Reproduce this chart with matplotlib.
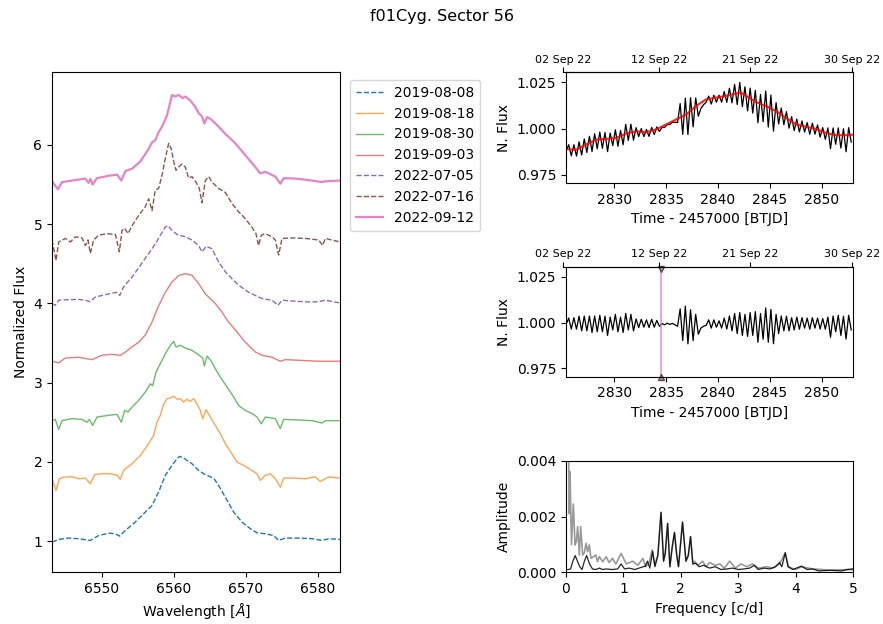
import numpy as np
import matplotlib
matplotlib.use("Agg")
import matplotlib.pyplot as plt
from matplotlib.ticker import FormatStrFormatter

# ---------------- data: H-alpha spectra (wavelength [A], normalized flux incl. offset)
wl_190808 = [6543.06, 6543.99, 6545.37, 6546.76, 6548.38, 6549.54, 6550.93, 6551.86, 6552.46, 6553.25,
             6554.63, 6556.02, 6556.95, 6557.87, 6558.80, 6559.73, 6560.42, 6560.79, 6561.35, 6562.50,
             6563.43, 6564.36, 6565.51, 6566.21, 6567.13, 6568.29, 6569.45, 6570.61, 6571.53, 6572.69,
             6573.85, 6574.54, 6575.47, 6577.32, 6579.17, 6580.56, 6581.49, 6583.06]
fx_190808 = [0.987, 1.021, 1.038, 1.03, 1.008, 1.07, 1.10, 1.092, 1.063, 1.135,
             1.24, 1.366, 1.45, 1.62, 1.83, 1.955, 2.04, 2.069, 2.048, 1.976,
             1.892, 1.837, 1.795, 1.70, 1.555, 1.366, 1.24, 1.156, 1.105, 1.092,
             1.07, 1.008, 1.038, 1.038, 1.03, 1.008, 1.03, 1.021]

wl_190818 = [6543.06, 6543.62, 6544.08, 6544.91, 6545.84, 6546.76, 6547.69, 6548.38, 6548.99, 6550.00,
             6551.16, 6552.09, 6552.55, 6553.01, 6554.17, 6555.33, 6556.49, 6557.18, 6557.64, 6558.11,
             6558.57, 6559.03, 6559.49, 6559.96, 6560.42, 6560.88, 6561.35, 6561.81, 6562.27, 6562.74,
             6563.20, 6563.66, 6563.99, 6564.45, 6565.05, 6565.74, 6566.44, 6567.13, 6568.06, 6568.75,
             6569.68, 6570.84, 6571.53, 6571.99, 6572.69, 6573.38, 6574.08, 6574.77, 6575.24, 6576.86,
             6578.25, 6579.63, 6580.33, 6581.49, 6583.06]
fx_190818 = [1.787, 1.64, 1.787, 1.81, 1.81, 1.787, 1.795, 1.724, 1.84, 1.85,
             1.85, 1.83, 1.78, 1.892, 1.976, 2.08, 2.23, 2.334, 2.50, 2.587,
             2.73, 2.797, 2.805, 2.83, 2.79, 2.797, 2.755, 2.79, 2.763, 2.797,
             2.73, 2.65, 2.545, 2.66, 2.566, 2.46, 2.355, 2.23, 2.10, 1.997,
             1.955, 1.892, 1.85, 1.766, 1.83, 1.85, 1.787, 1.68, 1.795, 1.795,
             1.787, 1.81, 1.753, 1.81, 1.795]

wl_190830 = [6543.06, 6543.52, 6543.99, 6544.45, 6545.84, 6547.23, 6547.92, 6548.25, 6548.71, 6549.31,
             6550.93, 6552.09, 6552.69, 6553.15, 6553.62, 6554.17, 6555.10, 6556.02, 6556.72, 6557.04,
             6557.50, 6558.11, 6558.80, 6559.49, 6559.96, 6560.28, 6560.88, 6561.58, 6562.50, 6563.43,
             6563.99, 6564.22, 6564.59, 6565.19, 6565.74, 6566.44, 6567.37, 6568.29, 6568.99, 6569.91,
             6570.84, 6571.53, 6572.13, 6572.69, 6574.08, 6574.77, 6575.24, 6576.86, 6579.17, 6580.56,
             6581.02, 6583.06]
fx_190830 = [2.52, 2.536, 2.41, 2.52, 2.545, 2.536, 2.50, 2.536, 2.46, 2.566,
             2.587, 2.60, 2.50, 2.65, 2.63, 2.69, 2.776, 2.88, 2.986, 2.96,
             3.13, 3.24, 3.365, 3.47, 3.52, 3.45, 3.47, 3.437, 3.407, 3.35,
             3.31, 3.21, 3.336, 3.27, 3.176, 3.07, 2.944, 2.82, 2.71, 2.65,
             2.61, 2.566, 2.48, 2.566, 2.545, 2.42, 2.536, 2.53, 2.52, 2.49,
             2.52, 2.52]

wl_190903 = [6543.06, 6543.99, 6544.91, 6546.76, 6548.62, 6550.00, 6551.39, 6552.55, 6553.25, 6554.17,
             6555.10, 6556.02, 6556.95, 6557.87, 6558.80, 6559.73, 6560.65, 6561.58, 6562.50, 6563.43,
             6564.36, 6565.74, 6566.67, 6567.37, 6567.60, 6568.75, 6569.91, 6571.30, 6572.23, 6573.62,
             6574.77, 6575.47, 6577.78, 6580.10, 6583.06]
fx_190903 = [3.27, 3.25, 3.31, 3.32, 3.29, 3.345, 3.357, 3.345, 3.386, 3.45,
             3.51, 3.60, 3.765, 3.97, 4.14, 4.27, 4.35, 4.376, 4.355, 4.25,
             4.12, 3.997, 3.89, 3.79, 3.765, 3.64, 3.51, 3.386, 3.345, 3.32,
             3.27, 3.29, 3.28, 3.27, 3.27]

wl_220705 = [6543.06, 6543.52, 6543.99, 6545.37, 6546.76, 6547.69, 6548.38, 6549.08, 6550.93, 6552.09,
             6552.46, 6553.01, 6554.17, 6555.33, 6556.49, 6557.41, 6558.11, 6558.80, 6559.17, 6559.73,
             6560.42, 6561.58, 6562.50, 6563.43, 6563.89, 6564.45, 6565.28, 6566.21, 6567.13, 6568.06,
             6568.99, 6570.37, 6571.53, 6572.23, 6573.62, 6574.45, 6575.00, 6576.39, 6578.25, 6580.10,
             6581.02, 6583.06]
fx_220705 = [4.00, 3.976, 4.04, 4.047, 4.05, 4.04, 4.02, 4.08, 4.12, 4.14,
             4.10, 4.21, 4.33, 4.48, 4.63, 4.75, 4.86, 4.965, 4.98, 4.92,
             4.87, 4.84, 4.80, 4.73, 4.65, 4.72, 4.69, 4.52, 4.40, 4.31,
             4.23, 4.14, 4.09, 4.06, 4.04, 3.976, 4.04, 4.03, 4.02, 4.02,
             4.04, 4.005]

wl_220716 = [6543.06, 6543.62, 6543.99, 6544.91, 6545.61, 6546.30, 6547.23, 6547.69, 6548.06, 6548.38,
             6548.85, 6549.54, 6550.70, 6551.86, 6552.41, 6552.78, 6553.15, 6553.62, 6554.17, 6555.10,
             6556.02, 6556.49, 6556.95, 6557.41, 6557.87, 6558.34, 6558.80, 6559.26, 6559.63, 6559.96,
             6560.28, 6560.65, 6561.11, 6561.58, 6562.04, 6562.50, 6563.06, 6563.52, 6563.89, 6564.36,
             6564.82, 6565.28, 6566.21, 6567.13, 6568.06, 6568.99, 6569.91, 6570.84, 6571.39, 6571.76,
             6572.13, 6572.69, 6573.62, 6574.08, 6574.54, 6575.00, 6576.39, 6578.25, 6580.10, 6580.65,
             6581.02, 6583.06]
fx_220716 = [4.80, 4.54, 4.775, 4.82, 4.775, 4.84, 4.826, 4.73, 4.80, 4.63,
             4.80, 4.86, 4.88, 4.87, 4.65, 4.92, 4.95, 4.88, 4.98, 5.11,
             5.22, 5.32, 5.17, 5.43, 5.45, 5.62, 5.83, 6.02, 5.95, 5.79,
             5.68, 5.72, 5.76, 5.72, 5.58, 5.60, 5.53, 5.45, 5.27, 5.55,
             5.60, 5.53, 5.45, 5.40, 5.26, 5.155, 5.07, 4.96, 4.88, 4.73,
             4.86, 4.88, 4.84, 4.80, 4.61, 4.82, 4.826, 4.82, 4.80, 4.73,
             4.82, 4.775]

wl_220912 = [6543.06, 6543.89, 6544.45, 6545.84, 6547.69, 6548.15, 6548.40, 6548.71, 6549.31, 6550.93,
             6552.09, 6552.69, 6553.25, 6554.17, 6555.33, 6556.49, 6556.95, 6557.41, 6557.87, 6558.34,
             6559.03, 6559.73, 6560.19, 6560.65, 6561.21, 6561.58, 6562.27, 6562.97, 6563.43, 6563.89,
             6564.22, 6564.59, 6565.05, 6565.98, 6567.13, 6568.52, 6569.91, 6571.30, 6571.99, 6572.69,
             6574.08, 6574.77, 6575.24, 6576.86, 6579.17, 6580.56, 6581.02, 6583.06]
fx_220912 = [5.54, 5.44, 5.53, 5.55, 5.575, 5.52, 5.57, 5.50, 5.58, 5.61,
             5.625, 5.55, 5.67, 5.70, 5.79, 5.95, 6.03, 6.06, 6.16, 6.23,
             6.37, 6.63, 6.61, 6.63, 6.59, 6.61, 6.56, 6.48, 6.40, 6.36,
             6.27, 6.35, 6.33, 6.25, 6.14, 6.02, 5.87, 5.72, 5.64, 5.66,
             5.60, 5.51, 5.58, 5.575, 5.55, 5.53, 5.54, 5.55]

spec_dates = ["2019-08-08", "2019-08-18", "2019-08-30", "2019-09-03",
              "2022-07-05", "2022-07-16", "2022-09-12"]
spec_wl = [wl_190808, wl_190818, wl_190830, wl_190903, wl_220705, wl_220716, wl_220912]
spec_fx = [fx_190808, fx_190818, fx_190830, fx_190903, fx_220705, fx_220716, fx_220912]

# ---------------- data: TESS light curve (Sector 56)
# trend (red) knots
trend_t = [2825.34, 2826.30, 2827.27, 2828.23, 2829.20, 2830.16, 2831.13, 2832.09, 2833.06, 2834.02,
           2834.99, 2835.95, 2836.92, 2837.88, 2838.84, 2839.81, 2840.77, 2841.74, 2842.22, 2842.70,
           2843.67, 2844.63, 2845.60, 2846.56, 2847.53, 2848.49, 2849.46, 2850.42, 2851.39, 2852.35,
           2853.02]
trend_f = [0.9889, 0.9885, 0.9913, 0.9940, 0.9944, 0.9949, 0.9973, 0.9985, 0.9980, 0.9995,
           1.0022, 1.0049, 1.0076, 1.0122, 1.0158, 1.0168, 1.0177, 1.0191, 1.0195, 1.0177,
           1.0144, 1.0122, 1.0095, 1.0058, 1.0022, 1.0009, 0.9998, 0.9976, 0.9964, 0.9964,
           0.9967]
# detrended flux, deviation in ppt, sampled every 0.25 d from t0
lc_t0 = 2825.35
lc_step = 0.25
resid_ppt = [-1, 2.5, -3.5, 2.7, -3.6, 3.5, -4.5, 3.6, -4.5, 3.6,
             -5.4, 3.6, -5, 4, -5, 3.5, -7, 3, -4, 4.5,
             -5, 3, -5.4, 5, -4, 4.5, -4.5, 2, -2.7, 1.8,
             -2.5, 1.5, -2.7, 1.8, -2.5, 1.2, -2, -0.5, -1.2, -0.3,
             -1, -0.4, -1.2, -2, 7.5, -9.8, 9, -11.6, 7, -9.8,
             4.5, -6.3, -3, -2, -1.5, 1.5, -3, 1.5, -2.5, 1,
             -3, 2.5, -3.5, 3.6, -4.5, 5, -6, 5.5, -7, 4.5,
             -7.5, 5.5, -7, 6, -10.7, 5, -9, 8, -10.7, 7.2,
             -11.5, 4.5, -6, 3.6, -4.5, 3.5, -4.5, 2.7, -4, 3,
             -3.6, 2.7, -3, 2.5, -3.6, 2.7, -3, 2.5, -3.5, 2.2,
             -3.6, 3, -8, 3.6, -5, 4, -7, 3.5, -9, 4, -4]
spec_epoch = 2834.5   # 2022-09-12

date_ticks = [2825.08, 2834.31, 2843.08, 2852.89]
date_labels = ["02 Sep 22", "12 Sep 22", "21 Sep 22", "30 Sep 22"]

# ---------------- data: amplitude spectra (amplitude in 1e-3)
pg_f_raw = [0.02, 0.045, 0.058, 0.07, 0.095, 0.128, 0.157, 0.18, 0.203, 0.232,
            0.256, 0.29, 0.32, 0.35, 0.377, 0.406, 0.435, 0.47, 0.52, 0.55,
            0.58, 0.64, 0.70, 0.75, 0.81, 0.87, 0.96, 1.05, 1.16, 1.25,
            1.34, 1.39, 1.45, 1.50, 1.545,
            1.60, 1.655, 1.70, 1.73, 1.77, 1.81, 1.85, 1.89, 1.93, 1.96,
            2.03, 2.09, 2.13, 2.17, 2.21,
            2.24, 2.30, 2.38, 2.44, 2.50, 2.60, 2.68, 2.76, 2.85, 2.95,
            3.05, 3.15, 3.25, 3.35, 3.50, 3.60, 3.72, 3.82, 3.87, 4.00,
            4.10, 4.30, 4.60, 5.00]
pg_a_raw = [4.5, 4.4, 2.1, 3.6, 1.0, 2.45, 0.98, 1.1, 1.64, 0.62,
            1.64, 0.62, 0.7, 1.04, 0.74, 0.98, 0.5, 0.55, 0.62, 0.38,
            0.56, 0.38, 0.56, 0.35, 0.5, 0.3, 0.68, 0.3, 0.4, 0.25,
            0.5, 0.2, 0.35, 0.8, 0.26,
            0.6, 2.15, 0.4, 0.7, 1.75, 0.2, 0.9, 1.43, 0.6, 0.2,
            1.8, 0.4, 0.6, 1.28, 0.3,
            0.4, 0.25, 0.4, 0.2, 0.35, 0.25, 0.3, 0.15, 0.4, 0.15,
            0.3, 0.2, 0.3, 0.15, 0.2, 0.15, 0.3, 0.7, 0.2, 0.1,
            0.2, 0.12, 0.08, 0.1]
pg_f_res = [0.03, 0.08, 0.12, 0.16, 0.20, 0.24, 0.28, 0.32, 0.36, 0.41,
            0.46, 0.52, 0.58, 0.64, 0.70, 0.80, 0.90, 0.96, 1.02, 1.10,
            1.20, 1.30, 1.38, 1.42, 1.46, 1.51, 1.55, 1.60, 1.655, 1.70,
            1.73, 1.77, 1.81, 1.85, 1.89, 1.93, 1.96, 2.03, 2.09, 2.13,
            2.17, 2.21, 2.26, 2.32, 2.40, 2.50, 2.60, 2.70, 2.80, 2.90,
            3.00, 3.10, 3.20, 3.28, 3.35, 3.45, 3.55, 3.65, 3.72, 3.76,
            3.82, 3.87, 3.95, 4.10, 4.20, 4.30, 4.40, 4.60, 4.80, 4.90,
            5.00]
pg_a_res = [0.10, 0.12, 0.40, 0.60, 0.40, 0.20, 0.10, 0.40, 0.60, 0.30,
            0.12, 0.10, 0.15, 0.10, 0.12, 0.10, 0.12, 0.30, 0.12, 0.15,
            0.10, 0.17, 0.22, 0.40, 0.15, 0.75, 0.20, 0.60, 2.15, 0.40,
            0.70, 1.75, 0.20, 0.90, 1.43, 0.60, 0.20, 1.80, 0.40, 0.60,
            1.28, 0.30, 0.32, 0.20, 0.25, 0.15, 0.20, 0.10, 0.12, 0.15,
            0.10, 0.12, 0.15, 0.25, 0.10, 0.15, 0.12, 0.20, 0.35, 0.20,
            0.70, 0.20, 0.10, 0.22, 0.10, 0.12, 0.05, 0.07, 0.05, 0.10,
            0.12]

# ---------------- figure
W, H = 883, 624
fig = plt.figure(figsize=(W / 100, H / 100), dpi=100)


def rect(x0, y0, x1, y1):
    return [x0 / W, 1 - y1 / H, (x1 - x0) / W, (y1 - y0) / H]


fig.suptitle("f01Cyg. Sector 56", y=1 - 16 / H, fontsize=11.5, va="center")

# spectra panel
styles = [dict(color="C0", ls="--", lw=1.0),
          dict(color="C1", ls="-", lw=1.0, alpha=0.7),
          dict(color="C2", ls="-", lw=1.0, alpha=0.7),
          dict(color="C3", ls="-", lw=1.0, alpha=0.6),
          dict(color="C4", ls="--", lw=1.0),
          dict(color="C5", ls="--", lw=1.0),
          dict(color="C6", ls="-", lw=1.6, alpha=0.9)]
ax_sp = fig.add_axes(rect(52, 72, 340, 572))
handles = []
for d, wl, fx, st in zip(spec_dates, spec_wl, spec_fx, styles):
    h, = ax_sp.plot(wl, fx, label=d, **st)
    handles.append(h)
ax_sp.set_xlim(6543.06, 6583.06)
ax_sp.set_ylim(0.61, 6.92)
ax_sp.set_xticks([6550, 6560, 6570, 6580])
ax_sp.set_yticks([1, 2, 3, 4, 5, 6])
ax_sp.set_xlabel("Wavelength [$Å$]")
ax_sp.set_ylabel("Normalized Flux")
fig.legend(handles=handles, loc="upper left", bbox_to_anchor=(350 / W, 1 - 80 / H),
           borderaxespad=0)

# light curves
t = lc_t0 + lc_step * np.arange(len(resid_ppt))
resid = 1 + np.array(resid_ppt) / 1000.0
raw = np.interp(t, trend_t, trend_f) * resid


def date_axis(y0, y1):
    axd = fig.add_axes(rect(563.3, y0, 852.3, y1))
    axd.patch.set_visible(False)
    for s in ["bottom", "left", "right"]:
        axd.spines[s].set_visible(False)
    axd.set_yticks([])
    axd.xaxis.set_ticks_position("top")
    axd.set_xlim(2825.08, 2852.95)
    axd.set_xticks(date_ticks)
    axd.set_xticklabels(date_labels, fontsize=8)
    axd.tick_params(axis="x", pad=2)
    return axd


ax1 = fig.add_axes(rect(566, 72.3, 853, 183))
date_axis(72.3, 183)
ax1.plot(t, raw, color="k", lw=0.9)
ax1.plot(trend_t, trend_f, color="r", lw=1.5, alpha=0.85)

ax2 = fig.add_axes(rect(566, 266.7, 853, 376.7))
date_axis(266.7, 376.7)
ax2.plot(t, resid, color="k", lw=0.9)
ax2.axvline(spec_epoch, color="C6", lw=1.2, alpha=0.8)
ax2.plot([spec_epoch], [1.0295], marker="v", ms=4, color="C6", mec="0.3", clip_on=False)
ax2.plot([spec_epoch], [0.9705], marker="^", ms=4, color="C6", mec="0.3", clip_on=False)

for ax in (ax1, ax2):
    ax.set_xlim(2825.34, 2853.02)
    ax.set_ylim(0.9705, 1.0305)
    ax.set_yticks([0.975, 1.000, 1.025])
    ax.yaxis.set_major_formatter(FormatStrFormatter("%.3f"))
    ax.set_xticks([2830, 2835, 2840, 2845, 2850])
    ax.set_xlabel("Time - 2457000 [BTJD]")
    ax.set_ylabel("N. Flux")

# amplitude spectrum
ax3 = fig.add_axes(rect(566, 460.7, 853, 572.3))
ax3.plot(pg_f_raw, np.array(pg_a_raw) / 1000.0, color="0.6", lw=1.2)
ax3.plot(pg_f_res, np.array(pg_a_res) / 1000.0, color="k", lw=0.9, alpha=0.85)
ax3.set_xlim(0, 5)
ax3.set_ylim(0, 0.004)
ax3.set_yticks([0, 0.002, 0.004])
ax3.yaxis.set_major_formatter(FormatStrFormatter("%.3f"))
ax3.set_xticks([0, 1, 2, 3, 4, 5])
ax3.set_xlabel("Frequency [c/d]")
ax3.set_ylabel("Amplitude")

fig.savefig("out.png", dpi=100)
